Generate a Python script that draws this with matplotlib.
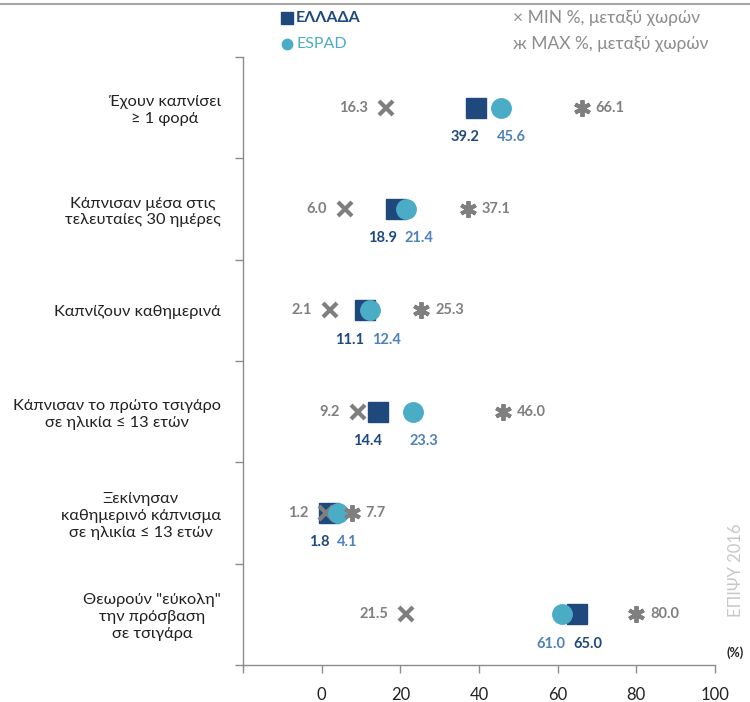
import matplotlib
matplotlib.use("Agg")
import matplotlib.pyplot as plt
from matplotlib.lines import Line2D
from matplotlib.ticker import FixedLocator, FixedFormatter

plt.rcParams['font.family'] = ['Lato', 'DejaVu Sans']

categories = [
    "Έχουν καπνίσει\n≥ 1 φορά",
    "Κάπνισαν μέσα στις\nτελευταίες 30 ημέρες",
    "Καπνίζουν καθημερινά",
    "Κάπνισαν το πρώτο τσιγάρο\nσε ηλικία ≤ 13 ετών",
    "Ξεκίνησαν\nκαθημερινό κάπνισμα\nσε ηλικία ≤ 13 ετών",
    "Θεωρούν \"εύκολη\"\nτην πρόσβαση\nσε τσιγάρα",
]
greece = [39.2, 18.9, 11.1, 14.4, 1.8, 65.0]
espad = [45.6, 21.4, 12.4, 23.3, 4.1, 61.0]
min_vals = [16.3, 6.0, 2.1, 9.2, 1.2, 21.5]
max_vals = [66.1, 37.1, 25.3, 46.0, 7.7, 80.0]
x_ticks = [-20, 0, 20, 40, 60, 80, 100]
x_tick_labels = ["", "0", "20", "40", "60", "80", "100"]

NAVY = "#1F497D"
TEAL = "#4BACC6"
ESPAD_TXT = "#4F81BD"
GRAY = "#7F7F7F"
AXIS = "#8C8C8C"

fig = plt.figure(figsize=(7.5, 7.02), dpi=100)
ax = fig.add_axes([243/750, 1-665/702, (715-243)/750, (665-57)/702])

ypos = list(range(len(categories)))

ax.plot(greece, ypos, linestyle='none', marker='s', ms=14.5, color=NAVY, zorder=3)
ax.plot(min_vals, ypos, linestyle='none', marker='x', ms=10, mew=3, color=GRAY, zorder=4)
ax.plot(espad, ypos, linestyle='none', marker='o', ms=14, color=TEAL, zorder=5)
ax.plot(max_vals, ypos, linestyle='none', marker=(6, 2, 0), ms=12, mew=2.8, color=GRAY, zorder=6)

for i, y in enumerate(ypos):
    ax.annotate(f"{min_vals[i]:.1f}", (min_vals[i], y), xytext=(-13, 0), textcoords='offset points',
                ha='right', va='center', fontsize=10.5, fontweight='bold', color=GRAY)
    ax.annotate(f"{max_vals[i]:.1f}", (max_vals[i], y), xytext=(10, 0), textcoords='offset points',
                ha='left', va='center', fontsize=10.5, fontweight='bold', color=GRAY)
    g, e = greece[i], espad[i]
    lo, hi = min(g, e), max(g, e)
    mid = (lo + hi) / 2
    right_edge = min(lo + 1.0, mid - 1.0)
    left_edge = max(hi - 1.0, mid + 1.0)
    if g <= e:
        gx, gha, ex, eha = right_edge, 'right', left_edge, 'left'
    else:
        gx, gha, ex, eha = left_edge, 'left', right_edge, 'right'
    ax.text(gx, y + 0.29, f"{g:.1f}", ha=gha, va='center', fontsize=10.5, fontweight='bold', color=NAVY)
    ax.text(ex, y + 0.29, f"{e:.1f}", ha=eha, va='center', fontsize=10.5, fontweight='bold', color=ESPAD_TXT)

ax.set_xlim(-20, 100)
ax.set_ylim(len(categories) - 0.5, -0.5)

ax.xaxis.set_major_locator(FixedLocator(x_ticks))
ax.xaxis.set_major_formatter(FixedFormatter(x_tick_labels))
ax.tick_params(axis='x', which='major', direction='out', length=6, width=1, color=AXIS,
               labelsize=12, labelcolor='#222222', pad=10)

ax.yaxis.set_major_locator(FixedLocator([i - 0.5 for i in range(len(categories) + 1)]))
ax.yaxis.set_major_formatter(FixedFormatter([""] * (len(categories) + 1)))
ax.yaxis.set_minor_locator(FixedLocator(ypos))
ax.yaxis.set_minor_formatter(FixedFormatter(categories))
ax.tick_params(axis='y', which='major', direction='out', length=6, width=1, color=AXIS)
ax.tick_params(axis='y', which='minor', length=0, pad=16, labelsize=11.8, labelcolor='#222222')
for lbl in ax.yaxis.get_minorticklabels():
    lbl.set_multialignment('center')
    lbl.set_linespacing(1.25)

for s in ['top', 'right']:
    ax.spines[s].set_visible(False)
for s in ['left', 'bottom']:
    ax.spines[s].set_color(AXIS)
    ax.spines[s].set_linewidth(1)

fig.add_artist(Line2D([0, 1], [1 - 4/702] * 2, color='#A6A6A6', lw=1.5, transform=fig.transFigure))

def fx(px):
    return px / 750
def fy(py):
    return 1 - py / 702

fig.add_artist(Line2D([fx(287)], [fy(18)], marker='s', ms=8, color=NAVY, linestyle='none',
                      transform=fig.transFigure))
fig.text(fx(296), fy(18), "ΕΛΛΑΔΑ", ha='left', va='center', fontsize=11.5, fontweight='bold', color=NAVY)
fig.add_artist(Line2D([fx(287)], [fy(44)], marker='o', ms=7.5, color=TEAL, linestyle='none',
                      transform=fig.transFigure))
fig.text(fx(296), fy(44), "ESPAD", ha='left', va='center', fontsize=11.5, color=TEAL)
fig.text(fx(513), fy(18), "× MIN %, μεταξύ χωρών", ha='left', va='center', fontsize=12.5, color='#8C8C8C')
fig.text(fx(513), fy(44), "ж MAX %, μεταξύ χωρών", ha='left', va='center', fontsize=12.5, color='#8C8C8C')

fig.text(fx(735), fy(653), "(%)", ha='center', va='center', fontsize=9, fontweight='bold', color='#222222')
fig.text(fx(736), fy(570), "ΕΠΙΨΥ 2016", ha='center', va='center', rotation=90, fontsize=12,
         color='#C8C8C8')

fig.savefig("out.png", dpi=100)
